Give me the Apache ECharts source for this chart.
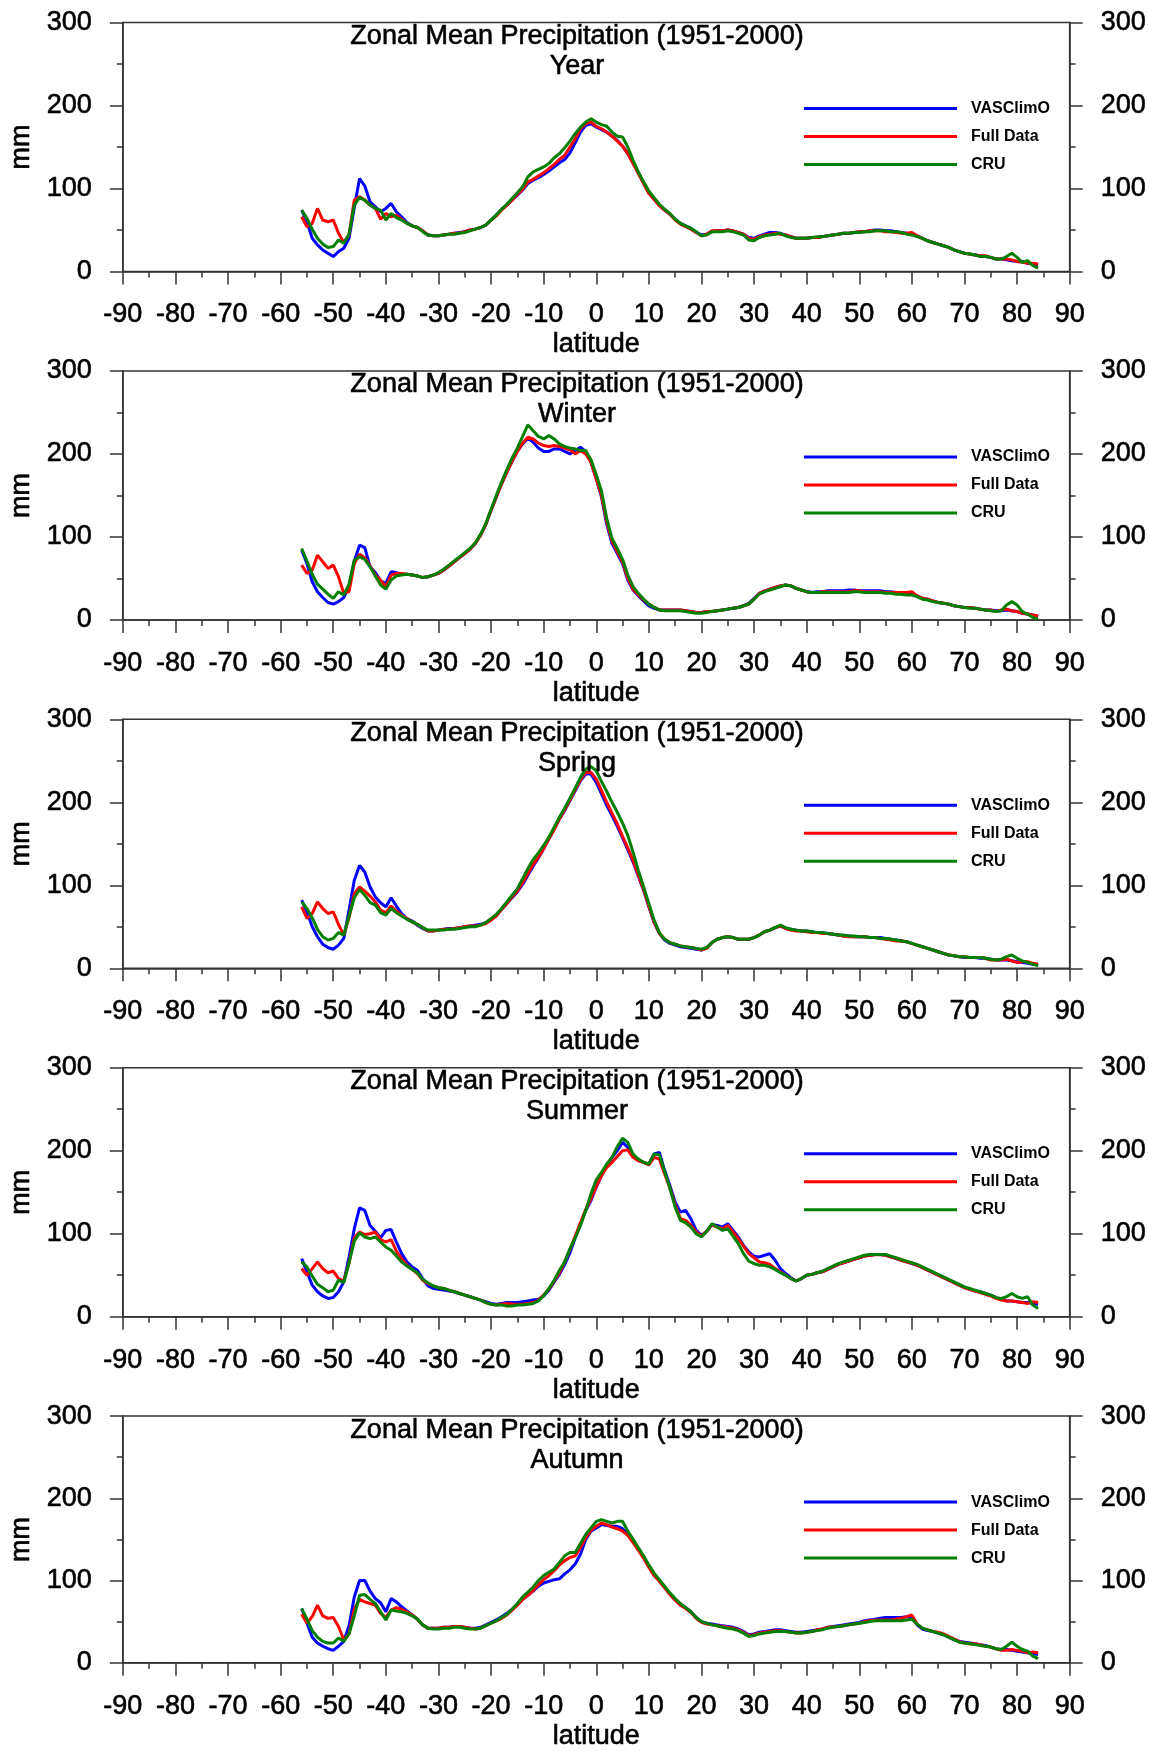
<!DOCTYPE html>
<html>
<head>
<meta charset="utf-8">
<title>Zonal Mean Precipitation (1951-2000)</title>
<script src="https://cdn.jsdelivr.net/npm/echarts@6/dist/echarts.min.js"></script>
<style>
  html, body { margin: 0; padding: 0; background: #fff; }
  #chart { width: 1149px; height: 1751px; }
</style>
</head>
<body>
<div id="chart"></div>
<script>
// latitude grid, 1 degree steps from 56S to 84N
const latitudes = [];
for (let lat = -56; lat <= 84; lat++) latitudes.push(lat);

const seriesNames = ['VASClimO', 'Full Data', 'CRU'];
const seasonNames = ['Year', 'Winter', 'Spring', 'Summer', 'Autumn'];
const yTicks = [0, 100, 200, 300];

// ---- Year ----
const yearVas = [
  74, 60, 40, 32, 26, 22, 18, 24, 28, 40,        // -56..-47
  77, 112, 103, 84, 78, 72, 76, 82, 72, 66,      // -46..-37
  59, 55, 53, 49, 44, 43, 43, 44, 45, 46,        // -36..-27
  47, 48, 50, 51, 53, 56, 62, 68, 75, 80,        // -26..-17
  86, 92, 98, 106, 110, 113, 117, 121, 126, 131, // -16..-7
  135, 143, 155, 168, 176, 178, 174, 171, 168, 163, // -6..3
  158, 151, 142, 131, 119, 107, 95, 87, 80, 74,  // 4..13
  69, 63, 58, 55, 52, 47, 44, 45, 48, 49,        // 14..23
  49, 50, 49, 47, 45, 41, 40, 43, 45, 47,        // 24..33
  47, 46, 44, 42, 40, 40, 40, 41, 41, 42,        // 34..43
  43, 44, 45, 46, 46, 47, 48, 48, 49, 50,        // 44..53
  50, 49, 49, 48, 47, 46, 45, 43, 40, 37,        // 54..63
  35, 33, 31, 29, 26, 24, 22, 21, 20, 19,        // 64..73
  18, 17, 15, 15, 14, 13, 12, 12, 10, 9, 8       // 74..84
];
const yearFull = [
  66, 54, 58, 76, 62, 60, 62, 46, 35, 44,
  86, 90, 86, 80, 76, 63, 70, 66, 68, 63,
  58, 55, 53, 49, 44, 43, 43, 44, 45, 46,
  46.5, 48, 50, 51, 53, 56, 62, 67, 74, 80,
  86, 93, 99, 108, 111, 115, 119, 124, 129, 135,
  140, 150, 160, 172, 178, 180, 175, 172, 168, 163,
  157, 151, 142, 130, 118, 106, 94, 87, 79, 74,
  69, 62, 57, 54, 51, 47, 43, 45, 49, 49,
  49, 50, 49, 47, 45, 40, 39, 42, 44, 45,
  46, 45, 44, 42, 40, 40, 40, 41, 41, 42,
  43, 44, 45, 46, 46, 47, 48, 48, 49, 49,
  49, 48, 48, 47, 46, 46, 47, 43, 40, 37,
  35, 33, 31, 29, 26, 24, 22, 21, 20, 19,
  19, 17, 15, 15, 15, 14, 12, 11, 10, 10, 9
];
const yearCru = [
  74, 64, 51, 40, 33, 29, 30, 38, 34, 45,
  80, 89, 86, 80, 76, 74, 62, 70, 65, 62,
  58, 55, 53, 48, 44, 43, 43, 44, 45, 45,
  46, 47, 49, 51, 53, 56, 62, 68, 75, 81,
  88, 95, 102, 114, 120, 123, 126, 130, 137, 142,
  149, 157, 166, 174, 180, 184, 180, 177, 175, 168,
  163, 162, 150, 134, 120, 108, 97, 89, 81, 75,
  70, 63, 58, 55, 52, 48, 43, 44, 48, 48,
  48, 49, 48, 46, 44, 38, 37, 41, 43, 44,
  45, 46, 43, 41, 40, 40, 40, 41, 42, 42,
  43, 44, 45, 46, 46, 47, 47, 48, 48, 49,
  49, 49, 48, 48, 47, 45, 44, 42, 40, 37,
  35, 33, 31, 29, 26, 24, 22, 21, 20, 18,
  18, 17, 15, 15, 18, 22, 17, 11, 13, 7, 4
];

// ---- Winter ----
const winterVas = [
  84, 68, 46, 34, 27, 21, 19, 22, 27, 40,
  71, 90, 87, 64, 57, 47, 44, 58, 57, 55,
  55, 54, 53, 51, 52, 54, 56, 60, 65, 70,
  75, 80, 85, 92, 102, 115, 132, 148, 164, 178,
  191, 203, 212, 219, 214, 207, 203, 203, 206, 206,
  203, 200, 204, 208, 203, 190, 170, 148, 115, 92,
  80, 68, 48, 36, 29, 23, 17, 14, 12, 12,
  12, 12, 12, 11, 10, 9, 9, 10, 10, 11,
  12, 13, 14, 15, 17, 20, 26, 32, 35, 37,
  39, 41, 42, 41, 38, 36, 34, 33, 34, 34,
  35, 35, 35, 35, 36, 36, 35, 35, 35, 35,
  35, 34, 34, 33, 33, 33, 32, 29, 26, 25,
  23, 21, 20, 19, 17, 16, 15, 15, 14, 13,
  12, 12, 11, 11, 12, 11, 10, 8, 7, 6, 4
];
const winterFull = [
  66, 56, 60, 78, 70, 62, 66, 52, 32, 34,
  68, 79, 75, 65, 54, 48, 40, 54, 56, 56,
  55, 54, 53, 51, 52, 54, 56, 60, 65, 70,
  75, 80, 85, 92, 102, 115, 132, 148, 164, 178,
  191, 203, 213, 220, 218, 213, 210, 209, 210, 209,
  207, 205, 200, 204, 200, 190, 170, 150, 118, 95,
  82, 70, 50, 37, 30, 24, 19, 15, 12, 12,
  12, 12, 12, 11, 10, 9, 9, 10, 10, 11,
  12, 13, 14, 15, 17, 19, 25, 32, 35, 37,
  39, 41, 42, 41, 38, 36, 34, 33, 33, 34,
  34, 34, 34, 34, 34, 35, 35, 34, 34, 34,
  34, 33, 33, 33, 33, 33, 34, 29, 26, 25,
  23, 21, 20, 19, 17, 16, 15, 15, 14, 13,
  12, 12, 10, 12, 13, 11, 10, 8, 7, 6, 5
];
const winterCru = [
  86, 71, 55, 43, 37, 31, 26, 34, 30, 43,
  72, 76, 73, 64, 53, 42, 37, 48, 53, 54,
  55, 54, 53, 51, 52, 54, 57, 61, 66, 71,
  76, 81, 86, 93, 103, 116, 133, 150, 166, 181,
  195, 207, 221, 235, 228, 221, 218, 222, 218, 212,
  209, 207, 206, 204, 204, 193, 175, 155, 122, 98,
  86, 73, 54, 40, 32, 25, 19, 15, 12, 11,
  11, 11, 11, 10, 9, 8, 8, 9, 10, 11,
  12, 13, 14, 15, 17, 19, 25, 31, 34, 36,
  38, 40, 42, 41, 38, 36, 34, 33, 33, 33,
  33, 33, 33, 33, 33, 34, 34, 33, 33, 33,
  33, 32, 32, 31, 31, 30, 30, 28, 25, 24,
  22, 21, 20, 19, 17, 16, 15, 14, 14, 13,
  12, 11, 10, 11, 18, 22, 18, 10, 7, 3, 1
];

// ---- Spring ----
const springVas = [
  82, 68, 50, 38, 29, 25, 23, 28, 36, 70,
  106, 124, 116, 98, 86, 79, 74, 85, 75, 66,
  60, 57, 52, 48, 45, 45, 46, 47, 48, 48,
  49, 50, 51, 52, 53, 55, 59, 64, 71, 78,
  85, 92, 101, 112, 123, 133, 144, 156, 168, 180,
  190, 202, 214, 226, 234, 234, 224, 210, 196, 184,
  171, 157, 143, 128, 111, 94, 74, 55, 42, 34,
  30, 28, 26, 25, 24, 23, 22, 25, 31, 35,
  37, 38, 37, 35, 35, 35, 37, 40, 44, 46,
  49, 51, 48, 47, 46, 45, 45, 44, 43, 43,
  42, 41, 40, 39, 39, 38, 38, 38, 37, 37,
  37, 36, 35, 34, 33, 32, 30, 28, 26, 24,
  22, 20, 18, 16, 15, 14, 13, 13, 13, 12,
  12, 11, 10, 10, 10, 9, 8, 7, 6, 5, 5
];
const springFull = [
  74, 60, 66, 80, 72, 66, 68, 53, 40, 61,
  90, 98, 93, 87, 80, 70, 67, 75, 69, 64,
  60, 56, 53, 49, 45, 45, 46, 47, 47, 48,
  49, 50, 51, 51, 52, 54, 58, 63, 71, 78,
  86, 93, 103, 114, 125, 134, 144, 156, 167, 180,
  191, 203, 215, 227, 236, 236, 228, 214, 200, 187,
  174, 159, 145, 130, 112, 95, 75, 56, 42, 35,
  31, 29, 27, 26, 25, 24, 22, 24, 31, 35,
  37, 38, 37, 35, 35, 35, 37, 40, 44, 46,
  49, 51, 48, 46, 45, 45, 44, 43, 43, 42,
  42, 41, 40, 39, 38, 38, 38, 38, 37, 37,
  36, 35, 34, 33, 33, 32, 30, 28, 26, 24,
  22, 20, 18, 16, 15, 14, 14, 13, 13, 13,
  12, 10, 10, 10, 11, 9, 7, 8, 8, 6, 5
];
const springCru = [
  80, 72, 61, 47, 38, 34, 36, 43, 40, 63,
  85, 95, 88, 79, 76, 67, 64, 72, 67, 63,
  59, 56, 53, 49, 46, 46, 46, 46, 47, 47,
  48, 49, 50, 50, 52, 55, 60, 65, 72, 80,
  88, 96, 108, 120, 131, 139, 148, 158, 170, 182,
  193, 205, 217, 230, 240, 243, 238, 225, 213, 200,
  188, 175, 160, 140, 118, 98, 78, 58, 43, 35,
  31, 29, 27, 26, 25, 24, 23, 25, 31, 35,
  37, 38, 37, 35, 35, 35, 37, 40, 44, 46,
  49, 52, 49, 47, 46, 45, 45, 44, 43, 43,
  42, 41, 40, 40, 39, 39, 38, 38, 37, 37,
  36, 36, 35, 34, 33, 32, 30, 28, 26, 24,
  22, 20, 18, 16, 15, 14, 14, 13, 13, 13,
  12, 11, 10, 11, 14, 16, 12, 9, 7, 5, 3
];

// ---- Summer ----
const summerVas = [
  70, 54, 38, 30, 25, 22, 23, 30, 42, 72,
  106, 131, 128, 110, 103, 95, 104, 105, 90, 76,
  66, 60, 56, 46, 37, 34, 33, 32, 31, 30,
  28, 26, 24, 22, 20, 18, 16, 15, 16, 17,
  17, 17, 18, 19, 20, 21, 25, 32, 42, 51,
  63, 77, 95, 112, 128, 140, 156, 170, 182, 192,
  200, 210, 204, 193, 188, 186, 184, 196, 198, 176,
  158, 138, 126, 128, 118, 104, 98, 103, 111, 110,
  108, 112, 104, 96, 86, 78, 73, 72, 74, 76,
  68, 58, 52, 47, 43, 46, 50, 51, 53, 54,
  57, 60, 63, 65, 67, 69, 71, 73, 74, 75,
  75, 74, 72, 70, 68, 66, 64, 62, 59, 56,
  53, 50, 47, 44, 41, 38, 35, 33, 31, 30,
  28, 26, 23, 21, 19, 19, 18, 17, 17, 16, 15
];
const summerFull = [
  58, 50, 58, 66, 58, 53, 55, 46, 43, 65,
  95, 102, 99, 100, 102, 93, 90, 93, 79, 70,
  62, 57, 52, 44, 40, 37, 35, 34, 32, 30,
  28, 26, 24, 22, 20, 17, 15, 14, 15, 16,
  15, 15, 15, 16, 17, 20, 26, 33, 43, 53,
  66, 81, 97, 113, 129, 142, 157, 170, 180, 186,
  193, 200, 201, 192, 188, 186, 183, 192, 190, 172,
  155, 135, 118, 116, 110, 102, 97, 103, 111, 108,
  106, 110, 102, 94, 85, 76, 71, 66, 65, 63,
  58, 54, 50, 46, 43, 46, 50, 51, 53, 54,
  57, 60, 63, 65, 67, 69, 71, 73, 74, 74.5,
  74.5, 74, 72, 70.5, 68, 66, 64.5, 62, 59, 56,
  53, 50, 47, 44, 41, 38, 35, 33, 31, 29,
  27, 25, 22, 20, 19, 19, 18, 17, 16, 18, 17
];
const summerCru = [
  66, 60, 49, 39, 35, 30, 32, 44, 41, 65,
  91, 101, 96, 94, 96, 90, 84, 80, 73, 66,
  61, 57, 53, 45, 41, 37, 35, 34, 32, 30,
  28, 26, 24, 22, 20, 17, 15, 14, 14, 13,
  13, 14, 14, 15, 16, 19, 25, 34, 44, 56,
  66, 82, 95, 110, 128, 148, 165, 174, 184, 192,
  205, 215, 210, 196, 190, 186, 184, 196, 195, 175,
  155, 132, 116, 113, 108, 100, 96, 103, 112, 108,
  104, 106, 97, 88, 76, 67, 64, 62, 62, 60,
  57, 53, 50, 46, 43, 46, 50, 51, 53, 55,
  58, 61, 64, 66, 68, 70, 72, 74, 75, 75,
  75, 75, 73, 71, 69, 67, 65, 63, 60, 57,
  54, 51, 48, 45, 42, 39, 36, 34, 32, 30,
  28, 26, 23, 22, 24, 28, 24, 22, 24, 14, 10
];

// ---- Autumn ----
const autumnVas = [
  66, 48, 31, 24, 20, 17, 15, 20, 26, 45,
  80, 100, 100, 87, 78, 73, 62, 78, 74, 68,
  63, 58, 53, 46, 42, 42, 42, 43, 43, 44,
  44, 43, 42, 42, 43, 46, 49, 52, 56, 60,
  65, 71, 77, 82, 87, 93, 97, 99, 101, 102,
  108, 113, 120, 132, 150, 160, 164, 168, 167, 166,
  166, 163, 156, 147, 138, 128, 117, 107, 100, 92,
  84, 77, 71, 67, 62, 55, 50, 48, 47, 46,
  45, 44, 43, 41, 38, 34, 35, 37, 38, 39,
  40, 40, 39, 38, 37, 37, 38, 39, 40, 41,
  43, 44, 45, 46, 47, 48, 49, 51, 52, 53,
  54, 55, 55, 55, 55, 56, 56, 46, 41, 39,
  38, 36, 34, 31, 28, 26, 25, 24, 23, 22,
  21, 19, 17, 16, 16, 15, 14, 13, 12, 11, 10
];
const autumnFull = [
  59, 48, 56, 70, 57, 54, 55, 44, 28, 35,
  65, 77, 74, 72, 70, 60, 55, 64, 67, 65,
  62, 58, 53, 46, 42, 42, 42, 43, 43, 44,
  44, 43, 42, 41, 42, 45, 48, 51, 54, 58,
  64, 70, 77, 82, 88, 95, 101, 106, 112, 119,
  124, 128, 130, 140, 152, 161, 166, 170, 168, 165,
  163, 160, 155, 146, 137, 127, 116, 106, 99, 91,
  83, 76, 70, 66, 61, 54, 49, 47, 46, 45,
  44, 43, 42, 40, 37, 33, 34, 36, 37, 38,
  39, 39, 38, 37, 36, 36, 37, 38, 40, 41,
  43, 43.5, 44, 45, 46, 47, 48, 50, 51, 52,
  52, 52, 52, 53, 54, 56, 58, 47, 42, 40,
  38, 37, 35, 32, 29, 26, 24, 23, 23, 22,
  20, 19, 17, 15, 15, 16, 15, 14, 12, 13, 12
];
const autumnCru = [
  66, 53, 39, 31, 26, 24, 24, 30, 26, 35,
  57, 82, 83, 77, 72, 62, 52, 64, 63, 62,
  60, 57, 53, 46, 42, 41, 41, 42, 42, 43,
  43, 42, 41, 41, 42, 45, 48, 51, 55, 59,
  65, 72, 80, 86, 92, 100, 106, 110, 114, 122,
  130, 134, 134, 145, 156, 164, 172, 174, 172, 170,
  172, 172, 160, 150, 140, 130, 119, 109, 101, 93,
  85, 78, 72, 67, 62, 55, 50, 48, 46, 45,
  43, 42, 41, 39, 36, 32, 33, 35, 36, 37,
  38, 38, 38, 37, 36, 36, 37, 38, 39, 40,
  42, 43, 44, 45, 46, 47, 48, 49, 50, 51,
  51, 51, 51, 51, 51, 52, 53, 47, 42, 40,
  38, 36, 34, 31, 28, 25, 24, 23, 22, 21,
  20, 19, 17, 16, 20, 25, 20, 16, 14, 8, 5
];

const seasons = [
  [yearVas, yearFull, yearCru],
  [winterVas, winterFull, winterCru],
  [springVas, springFull, springCru],
  [summerVas, summerFull, summerCru],
  [autumnVas, autumnFull, autumnCru]
];

const colors = ['#0000ff', '#ff0000', '#008000'];
const font = '"Liberation Sans", Arial, sans-serif';
const axisColor = '#333';

const panelTop = [22.5, 370.9, 719.3, 1067.7, 1416.1];
const plotLeft = 114;
const plotWidth = 957;
const plotHeight = 249;

// heavier text, like the original raster labels
const txt = { color: '#000', fontFamily: font, textBorderColor: '#000', textBorderWidth: 0.6 };

const grid = [], xAxis = [], yAxis = [], series = [], title = [], legend = [];

seasons.forEach(function (vals, i) {
  const top = panelTop[i];
  grid.push({
    left: plotLeft, top: top, width: plotWidth, height: plotHeight,
    show: true, borderColor: axisColor, borderWidth: 1.5, backgroundColor: 'transparent'
  });

  xAxis.push({
    gridIndex: i, type: 'value', min: -90, max: 90, interval: 10,
    axisLine: { show: true, onZero: false, lineStyle: { color: axisColor, width: 1.5 } },
    axisTick: { show: true, length: 13, lineStyle: { color: axisColor, width: 1.5 } },
    minorTick: { show: true, splitNumber: 2, length: 6, lineStyle: { color: axisColor, width: 1.5 } },
    splitLine: { show: false },
    axisLabel: Object.assign({ margin: 30, fontSize: 27, lineHeight: 27 }, txt),
    name: 'latitude', nameLocation: 'middle', nameGap: 60,
    nameTextStyle: Object.assign({ fontSize: 27 }, txt)
  });

  ['left', 'right'].forEach(function (pos) {
    yAxis.push({
      gridIndex: i, type: 'value', position: pos, min: 0, max: 300, interval: 100,
      axisLine: { show: true, onZero: false, lineStyle: { color: axisColor, width: 1.5 } },
      axisTick: { show: true, length: 13, lineStyle: { color: axisColor, width: 1.5 } },
      minorTick: { show: true, splitNumber: 2, length: 6, lineStyle: { color: axisColor, width: 1.5 } },
      splitLine: { show: false },
      axisLabel: Object.assign({
        margin: 31, fontSize: 27,
        formatter: function (v) { return yTicks.indexOf(v) >= 0 ? String(v) : ''; }
      }, txt),
      name: pos === 'left' ? 'mm' : '',
      nameLocation: 'middle', nameRotate: 90, nameGap: 78,
      nameTextStyle: Object.assign({ fontSize: 27 }, txt)
    });
  });

  vals.forEach(function (arr, k) {
    series.push({
      name: seriesNames[k], type: 'line',
      xAxisIndex: i, yAxisIndex: 2 * i,
      showSymbol: false, symbol: 'none',
      lineStyle: { color: colors[k], width: 3 },
      itemStyle: { color: colors[k] },
      data: latitudes.map(function (lat, j) { return [lat, arr[j]]; }),
      animation: false
    });
  });

  title.push({
    text: 'Zonal Mean Precipitation (1951-2000)',
    subtext: seasonNames[i],
    left: 577, top: top - 1, padding: 0, itemGap: 0, textAlign: 'center',
    textStyle: Object.assign({ fontSize: 27, fontWeight: 'normal', lineHeight: 30 }, txt),
    subtextStyle: Object.assign({ fontSize: 27, lineHeight: 30 }, txt)
  });

  legend.push({
    orient: 'vertical', left: 799, top: top + 71,
    data: seriesNames, icon: 'rect', itemWidth: 153, itemHeight: 3, itemGap: 8,
    selectedMode: false,
    textStyle: { fontSize: 16, fontWeight: 'bold', color: '#000', lineHeight: 20, fontFamily: font, padding: [0, 0, 0, 9] }
  });
});

const chart = echarts.init(document.getElementById('chart'));
chart.setOption({
  backgroundColor: '#fff',
  animation: false,
  title: title,
  legend: legend,
  grid: grid,
  xAxis: xAxis,
  yAxis: yAxis,
  series: series
});
</script>
</body>
</html>
